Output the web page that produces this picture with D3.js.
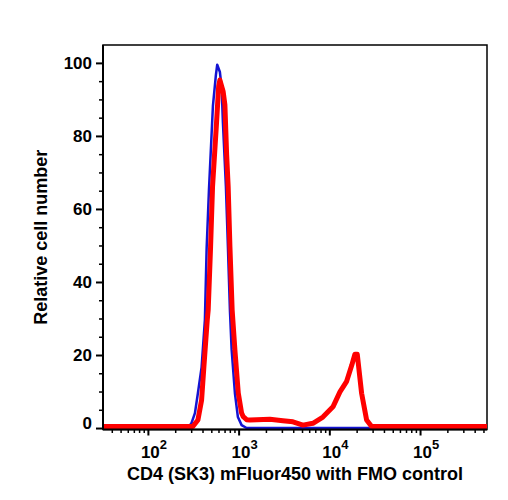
<!DOCTYPE html>
<html>
<head>
<meta charset="utf-8">
<script src="https://cdn.jsdelivr.net/npm/d3@7"></script>
<style>
  body { margin: 0; background: #fff; }
  text { font-family: "Liberation Sans", Arial, sans-serif; font-weight: bold; }
</style>
</head>
<body>
<div id="chart"></div>
<script>
// FMO control (blue) - [fluorescence, relative count]
const fmoX = [32, 276, 303, 330, 356, 391, 425, 444, 471, 521, 562, 581, 622, 650, 671, 724, 762, 802, 838, 910, 982, 1079, 1225, 547000];
const fmoY = [0, 0, 1.4, 4.1, 9.6, 16.7, 29.6, 49.1, 65.2, 88.2, 96.7, 99.5, 97.5, 93.2, 83.8, 66.3, 49.7, 32.3, 21.4, 9.6, 3.0, 0.8, 0, 0];

// CD4 stained sample (red)
const cd4X = [32, 225, 313, 356, 391, 414, 451, 462, 491, 516, 571, 603, 622, 676, 706, 738, 767, 802, 849, 910, 991, 1079, 1125, 1225, 1334, 2213, 3076, 3972, 5117, 6592, 8492, 10965, 13092, 15524, 17620, 19143, 20324, 22699, 25763, 29242, 547000];
const cd4Y = [0.4, 0.4, 0.4, 2.2, 7.7, 16.7, 29.6, 32.3, 49.7, 66.1, 83.6, 93.7, 95.3, 92.1, 88.5, 74.8, 66.1, 49.7, 32.3, 21.4, 9.6, 4.1, 3.1, 2.3, 2.2, 2.4, 2.0, 1.7, 0.8, 1.3, 3.0, 5.8, 9.9, 12.8, 17.1, 20.2, 20.2, 9.5, 2.2, 0.4, 0.4];

const yTicks = [0, 20, 40, 60, 80, 100];
const xDecades = [100, 1000, 10000, 100000];
const xDomain = [32, 547000];
const yDomain = [-0.4, 104.9];

const width = 508, height = 500;
const plot = { left: 103, right: 487, top: 45, bottom: 429.5 };

const svg = d3.select("#chart")
    .append("svg")
    .attr("width", width)
    .attr("height", height);

const xScale = d3.scaleLog()
    .domain(xDomain)
    .range([plot.left, plot.right]);

const yScale = d3.scaleLinear()
    .domain(yDomain)
    .range([plot.bottom, plot.top]);

// frame
svg.append("rect")
    .attr("x", plot.left)
    .attr("y", plot.top)
    .attr("width", plot.right - plot.left)
    .attr("height", plot.bottom - plot.top)
    .attr("fill", "none")
    .attr("stroke", "#000")
    .attr("stroke-width", 1.5);

// curves
const line = d3.line()
    .x(d => xScale(d[0]))
    .y(d => yScale(d[1]));

const fmoData = fmoX.map((x, i) => [x, fmoY[i]]);
const cd4Data = cd4X.map((x, i) => [x, cd4Y[i]]);

svg.append("path")
    .datum(fmoData)
    .attr("fill", "none")
    .attr("stroke", "#1414d2")
    .attr("stroke-width", 2.5)
    .attr("stroke-linejoin", "round")
    .attr("d", line);

svg.append("path")
    .datum(cd4Data)
    .attr("fill", "none")
    .attr("stroke", "#ff0000")
    .attr("stroke-width", 5)
    .attr("stroke-linejoin", "round")
    .attr("d", line);

// y axis
const yMinor = d3.range(0, 105, 5).filter(v => v % 20 !== 0);

svg.append("g")
    .attr("transform", `translate(${plot.left},0)`)
    .call(d3.axisLeft(yScale).tickValues(yMinor).tickSize(4).tickFormat(""))
    .call(g => g.select(".domain").remove())
    .call(g => g.selectAll("line").attr("stroke-width", 1.5));

const yAxis = svg.append("g")
    .attr("transform", `translate(${plot.left},0)`)
    .call(d3.axisLeft(yScale).tickValues(yTicks).tickSize(7).tickPadding(4));
yAxis.select(".domain").attr("stroke-width", 2).attr("d", `M0,${plot.top}V${plot.bottom}`);
yAxis.selectAll("line").attr("stroke-width", 2);
yAxis.selectAll("text")
    .attr("font-size", 17)
    .attr("font-weight", "bold")
    .attr("font-family", "Liberation Sans, Arial, sans-serif")
    .attr("fill", "#000");
// the "0" label sits a bit above its tick, as in the original
yAxis.selectAll(".tick").filter(d => d === 0).select("text").attr("y", -5);

// x axis
const xMinor = [];
[10, 100, 1000, 10000, 100000].forEach(d => {
    for (let k = 2; k <= 9; k++) {
        const v = d * k;
        if (v >= xDomain[0] && v <= xDomain[1]) xMinor.push(v);
    }
});

svg.append("g")
    .attr("transform", `translate(0,${plot.bottom})`)
    .call(d3.axisBottom(xScale).tickValues(xMinor).tickSize(3.5).tickFormat(""))
    .call(g => g.select(".domain").remove())
    .call(g => g.selectAll("line").attr("stroke-width", 1.5));

const xAxis = svg.append("g")
    .attr("transform", `translate(0,${plot.bottom})`)
    .call(d3.axisBottom(xScale).tickValues(xDecades).tickSize(6).tickFormat(""));
xAxis.select(".domain").attr("stroke-width", 2).attr("d", `M${plot.left},0H${plot.right}`);
xAxis.selectAll("line").attr("stroke-width", 2);

// decade labels 10^n
const xLabels = svg.append("g");
xDecades.forEach(d => {
    const t = xLabels.append("text")
        .attr("x", xScale(d) - 7)
        .attr("y", 458)
        .attr("font-size", 17)
        .attr("fill", "#000");
    t.append("tspan").text("10");
    t.append("tspan")
        .attr("dy", -9)
        .attr("font-size", 13)
        .text(Math.round(Math.log10(d)));
});

// axis titles
svg.append("text")
    .attr("x", (plot.left + plot.right) / 2)
    .attr("y", 480)
    .attr("text-anchor", "middle")
    .attr("font-size", 18)
    .attr("fill", "#000")
    .text("CD4 (SK3) mFluor450 with FMO control");

svg.append("text")
    .attr("transform", `translate(47,${(plot.top + plot.bottom) / 2}) rotate(-90)`)
    .attr("text-anchor", "middle")
    .attr("font-size", 18)
    .attr("fill", "#000")
    .text("Relative cell number");
</script>
</body>
</html>
